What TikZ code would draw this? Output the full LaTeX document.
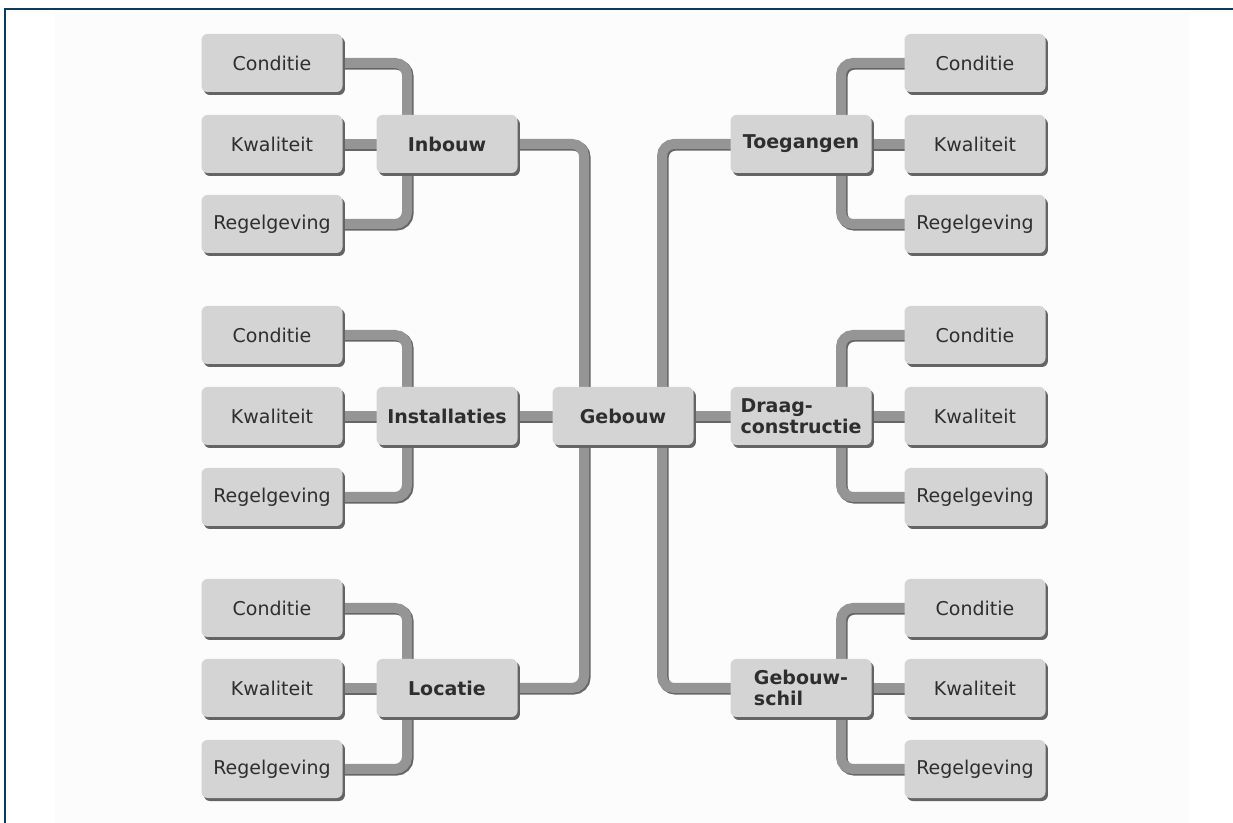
\documentclass[tikz,border=0pt]{standalone}
\usepackage{fontspec}
\setmainfont{DejaVu Sans}
\usetikzlibrary{shadows,backgrounds}

\definecolor{kader}{HTML}{0D3B5C}
\definecolor{vlak}{HTML}{FCFCFC}
\definecolor{vak}{HTML}{D4D4D4}
\definecolor{schaduw}{HTML}{646464}
\definecolor{buisrand}{HTML}{666666}
\definecolor{buiskleur}{HTML}{959595}
\definecolor{tekst}{HTML}{2E2E2E}

\begin{document}
\begin{tikzpicture}[x=0.5pt,y=-0.5pt,
		vakje/.style={rectangle, rounded corners=3pt, fill=vak, text=tekst,
			minimum width=70.5pt, minimum height=29pt, inner sep=2pt,
			font=\fontsize{9.5}{10.5}\selectfont,
			drop shadow={shadow xshift=1.2pt, shadow yshift=-1.5pt, fill=schaduw, opacity=1}},
		hoofd/.style={vakje, align=left, font=\fontsize{9.5}{10.5}\selectfont\bfseries},
		buizen/.style={draw=buiskleur, line width=5pt, rounded corners=6pt,
			preaction={draw=buisrand, line width=5.2pt, transform canvas={shift={(0.7pt,-0.7pt)}}}}]
		\useasboundingbox (0,0) rectangle (1233,823);
		
		% Kader
		\draw[kader, line width=1pt] (5,823) -- (5,9) -- (1233,9);
		
		% Hoofdvakken
		\node[hoofd] (geb) at (623,416) {Gebouw};
		\node[hoofd] (inb) at (447,144) {Inbouw};
		\node[hoofd] (inst) at (447,416) {Installaties};
		\node[hoofd] (loc) at (447,688) {Locatie};
		\node[hoofd] (toe) at (801,144) {Toegangen};
		\node[hoofd] (draag) at (801,416) {Draag-\\constructie};
		\node[hoofd] (schil) at (801,688) {Gebouw-\\schil};
		
		% Links
		\node[vakje] (inbC) at (272,63) {Conditie};
		\node[vakje] (inbK) at (272,144) {Kwaliteit};
		\node[vakje] (inbR) at (272,224) {Regelgeving};
		\node[vakje] (instC) at (272,335) {Conditie};
		\node[vakje] (instK) at (272,416) {Kwaliteit};
		\node[vakje] (instR) at (272,497) {Regelgeving};
		\node[vakje] (locC) at (272,608) {Conditie};
		\node[vakje] (locK) at (272,688) {Kwaliteit};
		\node[vakje] (locR) at (272,769) {Regelgeving};
		
		% Rechts
		\node[vakje] (toeC) at (975,63) {Conditie};
		\node[vakje] (toeK) at (975,144) {Kwaliteit};
		\node[vakje] (toeR) at (975,224) {Regelgeving};
		\node[vakje] (draagC) at (975,335) {Conditie};
		\node[vakje] (draagK) at (975,416) {Kwaliteit};
		\node[vakje] (draagR) at (975,497) {Regelgeving};
		\node[vakje] (schilC) at (975,608) {Conditie};
		\node[vakje] (schilK) at (975,688) {Kwaliteit};
		\node[vakje] (schilR) at (975,769) {Regelgeving};
		
		\begin{pgfonlayer}{background}
			\fill[vlak] (55,10) rectangle (1190,823);
			
			% Verbindingen naar Gebouw
			\draw[buizen] (inb.center) -| ([xshift=-19.5pt]geb.center);
			\draw[buizen] (loc.center) -| ([xshift=-19.5pt]geb.center);
			\draw[buizen] (toe.center) -| ([xshift=19.5pt]geb.center);
			\draw[buizen] (schil.center) -| ([xshift=19.5pt]geb.center);
			\draw[buizen] (inst.center) -- (geb.center) -- (draag.center);
			
			% Links
			\draw[buizen] (inbC.center) -| ([xshift=-20pt]inb.center) |- (inbR.center);
			\draw[buizen] (inbK.center) -- (inb.center);
			\draw[buizen] (instC.center) -| ([xshift=-20pt]inst.center) |- (instR.center);
			\draw[buizen] (instK.center) -- (inst.center);
			\draw[buizen] (locC.center) -| ([xshift=-20pt]loc.center) |- (locR.center);
			\draw[buizen] (locK.center) -- (loc.center);
			
			% Rechts
			\draw[buizen] (toeC.center) -| ([xshift=20pt]toe.center) |- (toeR.center);
			\draw[buizen] (toeK.center) -- (toe.center);
			\draw[buizen] (draagC.center) -| ([xshift=20pt]draag.center) |- (draagR.center);
			\draw[buizen] (draagK.center) -- (draag.center);
			\draw[buizen] (schilC.center) -| ([xshift=20pt]schil.center) |- (schilR.center);
			\draw[buizen] (schilK.center) -- (schil.center);
		\end{pgfonlayer}
	\end{tikzpicture}
\end{document}
